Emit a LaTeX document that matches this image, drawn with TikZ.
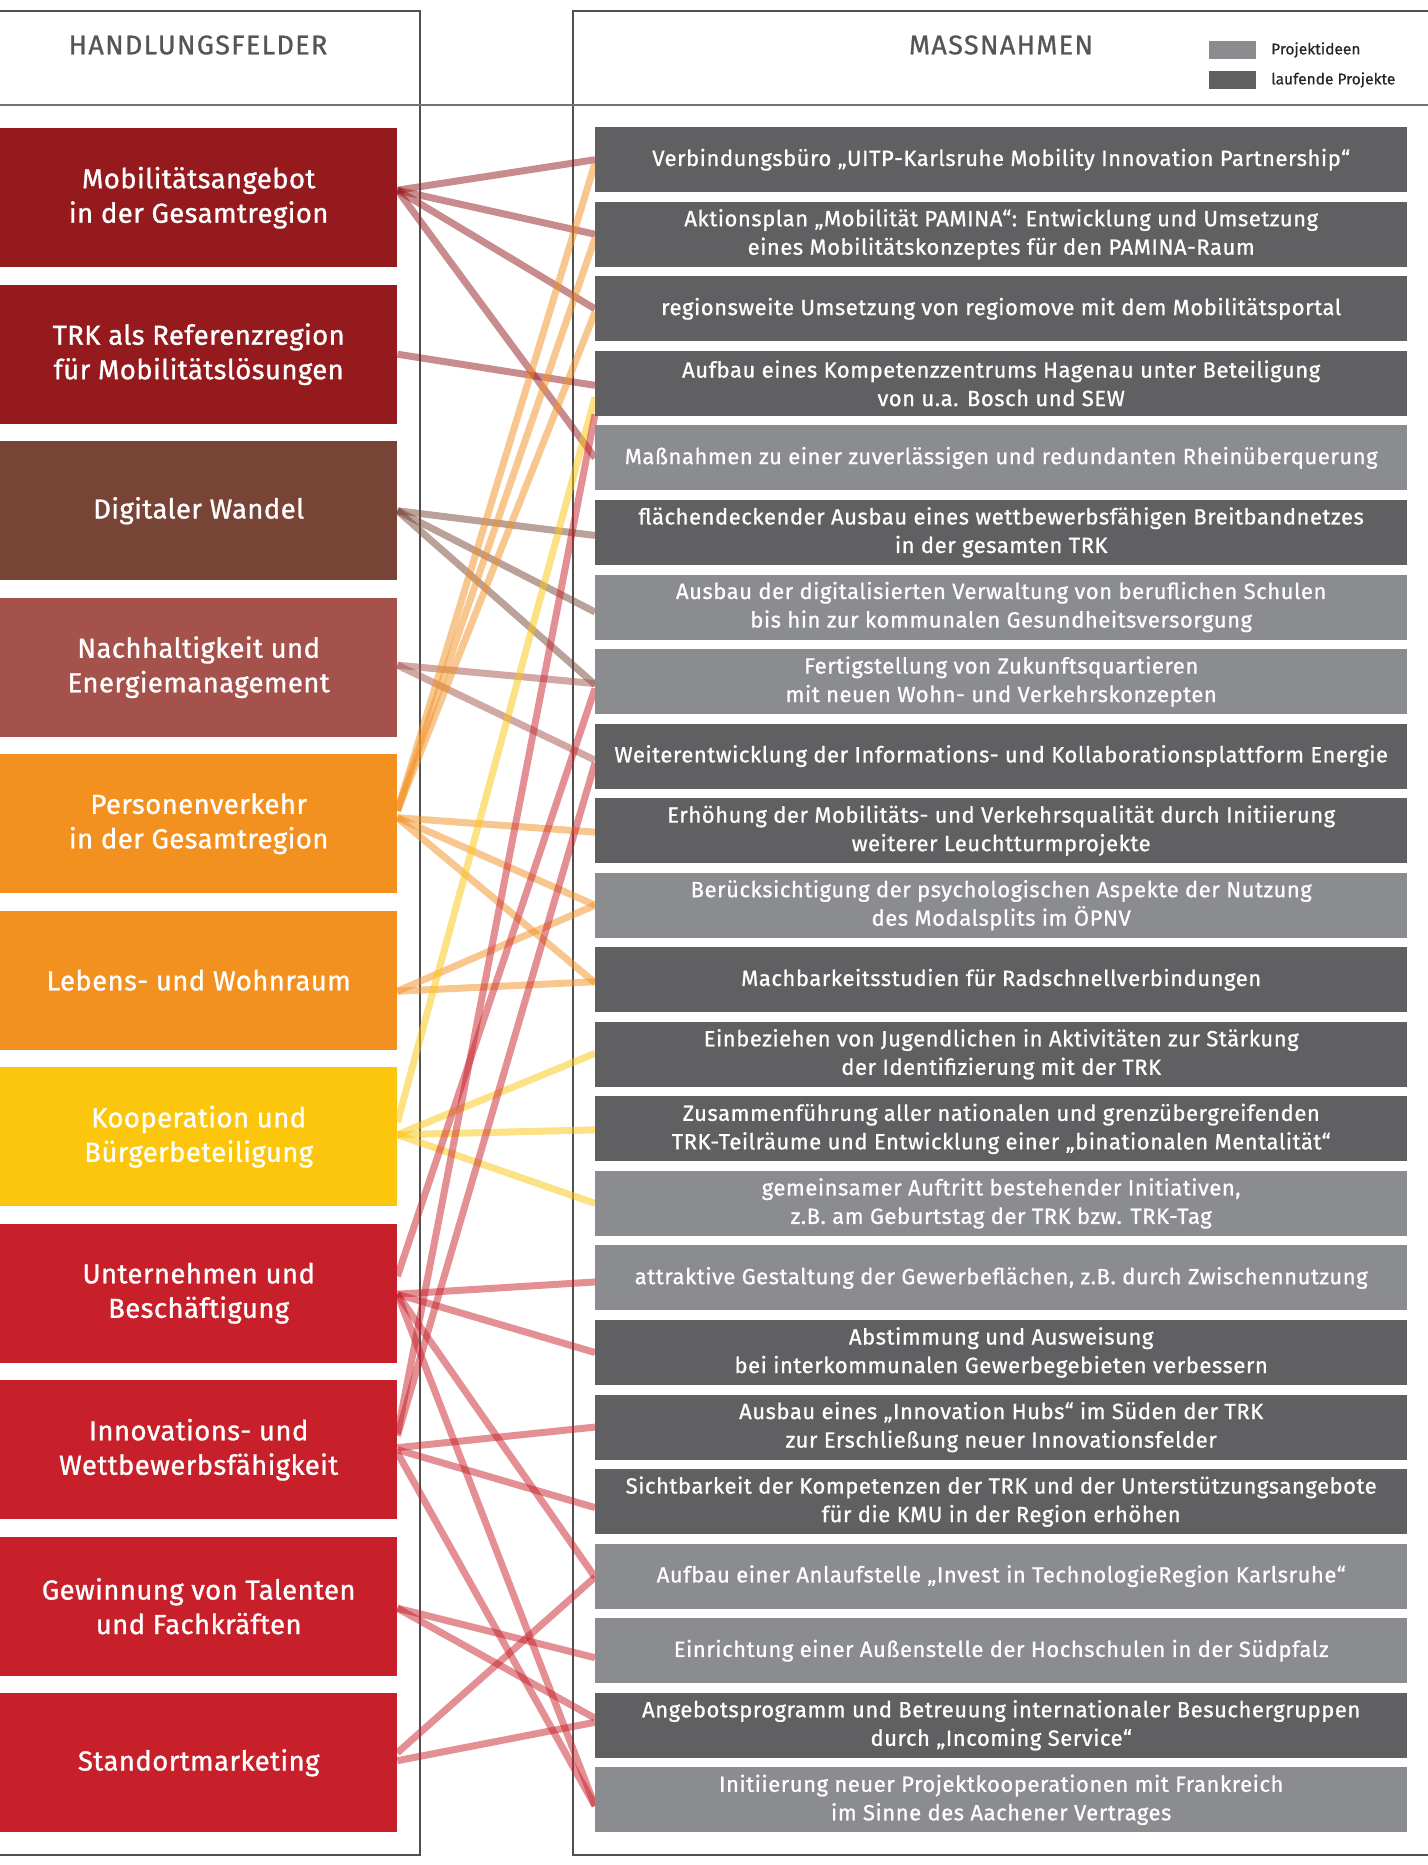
\documentclass[tikz,border=0pt]{standalone}
\usepackage{fontspec}
\setmainfont{Fira Sans}[UprightFeatures={FakeBold=1}]
\newfontfamily\leftfont{Fira Sans}[UprightFeatures={FakeBold=1}, LetterSpace=1.5]
\newfontfamily\rightfont{Fira Sans}[UprightFeatures={FakeBold=0.9}, LetterSpace=2.5]
\newfontfamily\headfont{Fira Sans}[UprightFeatures={FakeBold=0.8}, LetterSpace=5]
\newfontfamily\legfont{Fira Sans}[UprightFeatures={FakeBold=0.6}]
\definecolor{cMob}{HTML}{951A1E}
\definecolor{cDig}{HTML}{774436}
\definecolor{cNach}{HTML}{A4524B}
\definecolor{cOra}{HTML}{F39120}
\definecolor{cYel}{HTML}{FCC60C}
\definecolor{cRed}{HTML}{C8202A}
\definecolor{rDark}{HTML}{606062}
\definecolor{rLight}{HTML}{8B8C90}
\definecolor{frameC}{HTML}{505050}
\definecolor{headC}{HTML}{555555}
\tikzset{
  lbox/.style={anchor=north west, minimum width=397pt, minimum height=139pt, inner sep=0pt,
    text=white, align=center, font=\leftfont\fontsize{27.5}{34.5}\selectfont},
  rbox/.style={anchor=north west, minimum width=812pt, minimum height=65pt, inner sep=0pt,
    text=white, align=center, font=\rightfont\fontsize{22}{28.5}\selectfont},
  conn/.style={line width=7pt, draw opacity=0.5},
  lMob/.style={conn, draw=cMob},
  lDig/.style={conn, draw=cDig},
  lNach/.style={conn, draw=cNach},
  lOra/.style={conn, draw=cOra},
  lYel/.style={conn, draw=cYel},
  lRed/.style={conn, draw=cRed},
  frame/.style={draw=frameC, line width=1.5pt},
  headtext/.style={text=headC, font=\headfont\fontsize{27}{30}\selectfont},
  legtext/.style={anchor=west, text=black!85, font=\legfont\fontsize{15.5}{17}\selectfont, inner sep=0pt},
  legbox/.style={anchor=north west, minimum width=47pt, minimum height=18pt, inner sep=0pt}
}
\begin{document}
\begin{tikzpicture}[x=1pt, y=-1pt]
\useasboundingbox (0,0) rectangle (1427,1865);
\fill[white] (0,0) rectangle (1427,1865);
% frames
\draw[frame] (-5,11) rectangle (420,1855);
\draw[frame] (573,11) rectangle (1440,1855);
\draw[draw=black!55, line width=2pt] (-5,105) -- (1440,105);
% headers
\node[headtext] (hL) at (198,45) {HANDLUNGSFELDER};
\node[headtext] (hR) at (1001,45) {MASSNAHMEN};
% legend
\node[legbox, fill=rLight] (lg1) at (1209,41) {};
\node[legbox, fill=rDark] (lg2) at (1209,71) {};
\node[legtext] (lt1) at (1271,50) {Projektideen};
\node[legtext] (lt2) at (1271,80) {laufende Projekte};
% placeholder nodes for positions
\foreach \i in {1,...,11} {
  \pgfmathsetmacro{\t}{128+156.5*(\i-1)}
  \path (0,\t) node[lbox] (L\i) {};
}
\foreach \i in {1,...,23} {
  \pgfmathsetmacro{\t}{127+74.55*(\i-1)}
  \path (595,\t) node[rbox] (R\i) {};
}
% connectors
\draw[lMob] ([yshift=7.5pt]L1.east) -- (R1.west);
\draw[lMob] ([yshift=7.5pt]L1.east) -- (R2.west);
\draw[lMob] ([yshift=7.5pt]L1.east) -- (R3.west);
\draw[lMob] ([yshift=7.5pt]L1.east) -- (R5.west);
\draw[lMob] (L2.east) -- ([yshift=-2pt]R4.west);
\draw[lDig] (L3.east) -- ([yshift=-3pt]R6.west);
\draw[lDig] (L3.east) -- ([yshift=-5pt]R7.west);
\draw[lDig] (L3.east) -- ([yshift=-3pt]R8.west);
\draw[lNach] ([yshift=2pt]L4.east) -- ([yshift=-2pt]R8.west);
\draw[lNach] ([yshift=2pt]L4.east) -- ([yshift=-4pt]R9.west);
\draw[lOra] ([yshift=13pt]L5.east) -- ([yshift=-3.5pt]R1.west);
\draw[lOra] ([yshift=13pt]L5.east) -- ([yshift=-4pt]R2.west);
\draw[lOra] ([yshift=13pt]L5.east) -- ([yshift=-3.5pt]R3.west);
\draw[lOra] ([yshift=6pt]L5.east) -- ([yshift=-1.5pt]R10.west);
\draw[lOra] ([yshift=6pt]L5.east) -- (R11.west);
\draw[lOra] ([yshift=6pt]L5.east) -- ([yshift=-3pt]R12.west);
\draw[lOra] ([yshift=-11pt]L6.east) -- (R11.west);
\draw[lOra] ([yshift=-11pt]L6.east) -- ([yshift=-2pt]R12.west);
\draw[lYel] ([yshift=14.5pt]L7.east) -- ([yshift=-14pt]R4.west);
\draw[lYel] ([yshift=2pt]L7.east) -- ([yshift=1pt]R13.west);
\draw[lYel] ([yshift=2pt]L7.east) -- ([yshift=-1pt]R14.west);
\draw[lYel] ([yshift=2pt]L7.east) -- (R15.west);
\draw[lRed] ([yshift=17pt]L8.east) -- ([yshift=-7pt]R8.west);
\draw[lRed] ([yshift=-1pt]L8.east) -- ([yshift=-4pt]R16.west);
\draw[lRed] ([yshift=-1pt]L8.east) -- (R17.west);
\draw[lRed] ([yshift=-1pt]L8.east) -- ([yshift=-1pt]R20.west);
\draw[lRed] ([yshift=-1pt]L8.east) -- ([yshift=-6pt]R23.west);
\draw[lRed] ([yshift=16pt]L9.east) -- ([yshift=-31pt]R4.west);
\draw[lRed] ([yshift=14pt]L9.east) -- ([yshift=-7pt]R9.west);
\draw[lRed] ([yshift=2pt]L9.east) -- (R18.west);
\draw[lRed] (L9.east) -- ([yshift=-6pt]R19.west);
\draw[lRed] ([yshift=-3pt]L9.east) -- ([yshift=-6pt]R23.west);
\draw[lRed] ([yshift=-2pt]L10.east) -- ([yshift=-7pt]R21.west);
\draw[lRed] ([yshift=-2pt]L10.east) -- ([yshift=7pt]R22.west);
\draw[lRed] ([yshift=10pt]L11.east) -- ([yshift=-1pt]R20.west);
\draw[lRed] ([yshift=2pt]L11.east) -- ([yshift=3pt]R22.west);
% left boxes
\node[lbox, fill=cMob] at (L1.north west) {Mobilitätsangebot\\in der Gesamtregion};
\node[lbox, fill=cMob] at (L2.north west) {TRK als Referenzregion\\für Mobilitätslösungen};
\node[lbox, fill=cDig] at (L3.north west) {Digitaler Wandel};
\node[lbox, fill=cNach] at (L4.north west) {Nachhaltigkeit und\\Energiemanagement};
\node[lbox, fill=cOra] at (L5.north west) {Personenverkehr\\in der Gesamtregion};
\node[lbox, fill=cOra] at (L6.north west) {Lebens- und Wohnraum};
\node[lbox, fill=cYel] at (L7.north west) {Kooperation und\\Bürgerbeteiligung};
\node[lbox, fill=cRed] at (L8.north west) {Unternehmen und\\Beschäftigung};
\node[lbox, fill=cRed] at (L9.north west) {Innovations- und\\Wettbewerbsfähigkeit};
\node[lbox, fill=cRed] at (L10.north west) {Gewinnung von Talenten\\und Fachkräften};
\node[lbox, fill=cRed] at (L11.north west) {Standortmarketing};
% right boxes
\node[rbox, fill=rDark] at (R1.north west) {Verbindungsbüro „UITP-Karlsruhe Mobility Innovation Partnership“};
\node[rbox, fill=rDark] at (R2.north west) {Aktionsplan „Mobilität PAMINA“: Entwicklung und Umsetzung\\eines Mobilitätskonzeptes für den PAMINA-Raum};
\node[rbox, fill=rDark] at (R3.north west) {regionsweite Umsetzung von regiomove mit dem Mobilitätsportal};
\node[rbox, fill=rDark] at (R4.north west) {Aufbau eines Kompetenzzentrums Hagenau unter Beteiligung\\von u.a. Bosch und SEW};
\node[rbox, fill=rLight] at (R5.north west) {Maßnahmen zu einer zuverlässigen und redundanten Rheinüberquerung};
\node[rbox, fill=rDark] at (R6.north west) {flächendeckender Ausbau eines wettbewerbsfähigen Breitbandnetzes\\in der gesamten TRK};
\node[rbox, fill=rLight] at (R7.north west) {Ausbau der digitalisierten Verwaltung von beruflichen Schulen\\bis hin zur kommunalen Gesundheitsversorgung};
\node[rbox, fill=rLight] at (R8.north west) {Fertigstellung von Zukunftsquartieren\\mit neuen Wohn- und Verkehrskonzepten};
\node[rbox, fill=rDark] at (R9.north west) {Weiterentwicklung der Informations- und Kollaborationsplattform Energie};
\node[rbox, fill=rDark] at (R10.north west) {Erhöhung der Mobilitäts- und Verkehrsqualität durch Initiierung\\weiterer Leuchtturmprojekte};
\node[rbox, fill=rLight] at (R11.north west) {Berücksichtigung der psychologischen Aspekte der Nutzung\\des Modalsplits im ÖPNV};
\node[rbox, fill=rDark] at (R12.north west) {Machbarkeitsstudien für Radschnellverbindungen};
\node[rbox, fill=rDark] at (R13.north west) {Einbeziehen von Jugendlichen in Aktivitäten zur Stärkung\\der Identifizierung mit der TRK};
\node[rbox, fill=rDark] at (R14.north west) {Zusammenführung aller nationalen und grenzübergreifenden\\TRK-Teilräume und Entwicklung einer „binationalen Mentalität“};
\node[rbox, fill=rLight] at (R15.north west) {gemeinsamer Auftritt bestehender Initiativen,\\z.B. am Geburtstag der TRK bzw. TRK-Tag};
\node[rbox, fill=rLight] at (R16.north west) {attraktive Gestaltung der Gewerbeflächen, z.B. durch Zwischennutzung};
\node[rbox, fill=rDark] at (R17.north west) {Abstimmung und Ausweisung\\bei interkommunalen Gewerbegebieten verbessern};
\node[rbox, fill=rDark] at (R18.north west) {Ausbau eines „Innovation Hubs“ im Süden der TRK\\zur Erschließung neuer Innovationsfelder};
\node[rbox, fill=rDark] at (R19.north west) {Sichtbarkeit der Kompetenzen der TRK und der Unterstützungsangebote\\für die KMU in der Region erhöhen};
\node[rbox, fill=rLight] at (R20.north west) {Aufbau einer Anlaufstelle „Invest in TechnologieRegion Karlsruhe“};
\node[rbox, fill=rLight] at (R21.north west) {Einrichtung einer Außenstelle der Hochschulen in der Südpfalz};
\node[rbox, fill=rDark] at (R22.north west) {Angebotsprogramm und Betreuung internationaler Besuchergruppen\\durch „Incoming Service“};
\node[rbox, fill=rLight] at (R23.north west) {Initiierung neuer Projektkooperationen mit Frankreich\\im Sinne des Aachener Vertrages};
\end{tikzpicture}
\end{document}
